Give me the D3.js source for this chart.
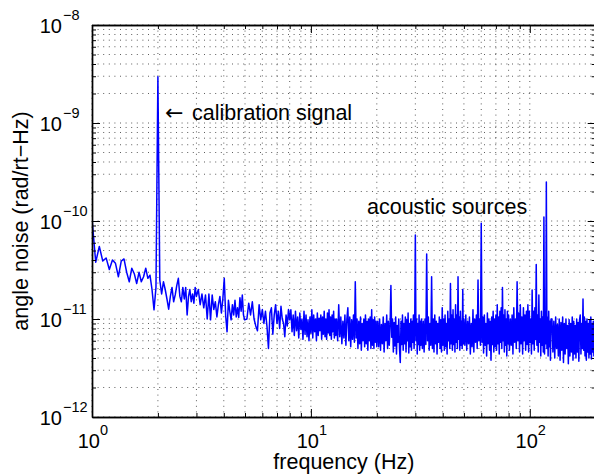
<!DOCTYPE html>
<html>
<head>
<meta charset="utf-8">
<script src="https://cdn.jsdelivr.net/npm/d3@7"></script>
<style>
  body { margin: 0; background: #fff; }
  text { font-family: "Liberation Sans", Arial, Helvetica, sans-serif; fill: #000; }
</style>
</head>
<body>
<svg id="chart" width="594" height="474"></svg>
<script>
// frequency bins (Hz)
const freqHz = [
  1.00, 1.04, 1.08, 1.12, 1.16, 1.20, 1.24, 1.28, 1.32, 1.36, 1.40, 1.44, 1.48, 1.52, 1.56, 1.60, 1.64, 1.68, 1.72, 1.76, 1.80, 1.84, 1.88, 1.92, 1.96, 2.00,
  2.04, 2.08, 2.12, 2.16, 2.20, 2.24, 2.28, 2.32, 2.36, 2.40, 2.44, 2.48, 2.52, 2.56, 2.60, 2.64, 2.68, 2.72, 2.76, 2.80, 2.84, 2.88, 2.92, 2.96, 3.00,
  3.06, 3.12, 3.18, 3.24, 3.30, 3.36, 3.42, 3.48, 3.54, 3.60, 3.66, 3.72, 3.78, 3.84, 3.90, 3.96, 4.02, 4.08, 4.14, 4.20, 4.26, 4.32, 4.38, 4.44, 4.50, 4.56, 4.62, 4.68, 4.74, 4.80, 4.86, 4.92, 4.98,
  5.1, 5.2, 5.3, 5.4, 5.5, 5.6, 5.7, 5.8, 5.9, 6.0, 6.1, 6.2, 6.3, 6.4, 6.5, 6.6, 6.7, 6.8, 6.9, 7.0, 7.1, 7.2, 7.3, 7.4, 7.5, 7.6, 7.7, 7.8, 7.9, 8.0,
  8.1, 8.2, 8.3, 8.4, 8.5, 8.6, 8.7, 8.8, 8.9, 9.0, 9.1, 9.2, 9.3, 9.4, 9.5, 9.6, 9.7, 9.8, 9.9, 10.0,
  10.1, 10.2, 10.3, 10.4, 10.5, 10.6, 10.7, 10.8, 10.9, 11.0, 11.1, 11.2, 11.3, 11.4, 11.5, 11.6, 11.7, 11.8, 11.9, 12.0,
  12.1, 12.2, 12.3, 12.4, 12.5, 12.6, 12.7, 12.8, 12.9, 13.0,
  13.1, 13.25, 13.4, 13.55, 13.7, 13.85, 14.0, 14.15, 14.3, 14.45, 14.6, 14.75, 14.9, 15.05, 15.2, 15.35, 15.5, 15.65, 15.8, 15.95,
  16.1, 16.25, 16.4, 16.55, 16.7, 16.85, 17.0, 17.15, 17.3, 17.45, 17.6, 17.75, 17.9, 18.05, 18.2, 18.35, 18.5, 18.65, 18.8, 18.95,
  19.1, 19.25, 19.4, 19.55, 19.7, 19.85, 20.0,
  20.2, 20.4, 20.6, 20.8, 21.0, 21.2, 21.4, 21.6, 21.8, 22.0, 22.2, 22.4, 22.6, 22.8, 23.0, 23.2, 23.4, 23.6, 23.8, 24.0,
  24.2, 24.4, 24.6, 24.8, 25.0, 25.2, 25.4, 25.6, 25.8, 26.0, 26.2, 26.4, 26.6, 26.8, 27.0, 27.2, 27.4, 27.6, 27.8, 28.0,
  28.2, 28.4, 28.6, 28.8, 29.0, 29.2, 29.4, 29.6, 29.8, 30.0, 30.2, 30.4, 30.6, 30.8, 31.0, 31.2, 31.4, 31.6, 31.8, 32.0,
  32.3, 32.6, 32.9, 33.2, 33.5, 33.8, 34.1, 34.4, 34.7, 35.0, 35.3, 35.6, 35.9, 36.2, 36.5, 36.8, 37.1, 37.4, 37.7, 38.0,
  38.3, 38.6, 38.9, 39.2, 39.5, 39.8, 40.1, 40.4, 40.7, 41.0, 41.3, 41.6, 41.9, 42.2, 42.5, 42.8, 43.1, 43.4, 43.7, 44.0,
  44.3, 44.6, 44.9, 45.2, 45.5, 45.8, 46.1, 46.4, 46.7, 47.0, 47.3, 47.6, 47.9, 48.2, 48.5, 48.8, 49.1, 49.4, 49.7, 50.0,
  50.5, 51, 51.5, 52, 52.5, 53, 53.5, 54, 54.5, 55, 55.5, 56, 56.5, 57, 57.5, 58, 58.5, 59, 59.5, 60,
  60.5, 61, 61.5, 62, 62.5, 63, 63.5, 64, 64.5, 65, 65.5, 66, 66.5, 67, 67.5, 68, 68.5, 69, 69.5, 70,
  70.5, 71, 71.5, 72, 72.5, 73, 73.5, 74, 74.5, 75, 75.5, 76, 76.5, 77, 77.5, 78, 78.5, 79, 79.5, 80,
  80.75, 81.5, 82.25, 83, 83.75, 84.5, 85.25, 86, 86.75, 87.5, 88.25, 89, 89.75, 90.5, 91.25, 92, 92.75, 93.5, 94.25, 95,
  95.75, 96.5, 97.25, 98, 98.75, 99.5, 100.25, 101, 101.75, 102.5, 103.25, 104, 104.75, 105.5, 106.25, 107, 107.75, 108.5, 109.25, 110,
  110.75, 111.5, 112.25, 113, 113.75, 114.5, 115.25, 116, 116.75, 117.5, 118.25, 119, 119.75, 120.5, 121.25, 122, 122.75, 123.5, 124.25, 125,
  126.25, 127.5, 128.75, 130, 131.25, 132.5, 133.75, 135, 136.25, 137.5, 138.75, 140, 141.25, 142.5, 143.75, 145, 146.25, 147.5, 148.75, 150,
  151.25, 152.5, 153.75, 155, 156.25, 157.5, 158.75, 160, 161.25, 162.5, 163.75, 165, 166.25, 167.5, 168.75, 170, 171.25, 172.5, 173.75, 175,
  176.25, 177.5, 178.75, 180, 181.25, 182.5, 183.75, 185, 186.25, 187.5, 188.75, 190, 191.25, 192.5, 193.75, 195, 196.25, 197.5, 198.75, 200
]

// angle noise, in units of 1e-12 rad/rt-Hz
const noise = [
  105, 38, 55, 39, 42, 32, 40, 37, 27, 39, 41, 30, 24, 33, 29, 23, 30, 24, 27, 33, 26, 28, 20, 12.4, 21, 2970,
  25, 18, 24, 20, 16, 12.6, 17, 21, 15, 17.6, 22, 26, 17, 15, 21, 16, 21, 11, 17, 20, 15, 18, 14.5, 21, 17,
  20, 14, 18, 13, 17.6, 10, 18, 9.8, 17.6, 12.5, 15, 10.5, 14, 17, 11.5, 16, 26, 10.8, 7.4, 15.5, 12, 9.8, 14, 11, 15.5, 10.5, 13, 10.4, 16.5, 12, 17.6, 11, 9.8,
  10, 14.5, 11, 15, 10, 8.5, 7.6, 14, 9.8, 12.5, 9, 12, 8.4, 5, 11.5, 13, 7, 11, 14, 9, 12, 8, 13.5, 10, 9, 6.6, 11, 8.5, 12.5, 9.8,
  12.4, 7.4, 11, 6.8, 12, 7.6, 10.5, 6.4, 11.5, 7.8, 10, 6.2, 12, 7, 11, 6.6, 9.8, 6, 10.5, 7.2,
  12.4, 6.4, 11, 7.4, 10, 6, 11.5, 6.8, 10.2, 7.6, 11, 6.2, 10.5, 7, 12, 6.6, 10, 6.2, 11.5, 7.2,
  12.4, 6.8, 10.5, 6.2, 11, 7.4, 12, 6.4, 10, 6.8,
  10, 6, 14, 6.6, 10.5, 5.6, 9.5, 6.4, 11, 5.4, 10, 13, 6, 10.5, 5.2, 9.8, 6.2, 11, 5.8, 24,
  6.4, 10, 5, 9.5, 5.6, 10.5, 4.8, 9, 6, 10, 5.2, 11, 5.6, 9.5, 4.8, 10, 6, 10.5, 5, 12.4,
  5.4, 9.8, 5, 10.5, 5.8, 9.5, 5.2,
  9.5, 5.2, 10, 4.8, 8.8, 5.6, 10.5, 4.6, 9, 6, 11, 5, 9.5, 5.4, 8.6, 22, 6.5, 10, 4.6, 9.2,
  5.3, 10.5, 4.4, 8.6, 5.8, 10, 5, 3.6, 9.5, 5.5, 11, 4.8, 9, 5.6, 10.5, 4.6, 9.8, 6, 11.5, 4.5,
  9, 5.2, 10, 4.8, 9.5, 5.8, 11, 5, 8.5, 72, 6, 10, 4.4, 9, 5.5, 11, 4.8, 9.5, 5.4, 10,
  5, 9.5, 4.6, 10, 5.5, 46, 6, 10.5, 4.8, 9, 5.4, 27, 5, 10, 4.6, 11, 5.6, 9.5, 4.4, 9,
  5.8, 10.5, 5, 9.8, 4.6, 13, 5.4, 10, 4.8, 11, 5.2, 9, 4.4, 12, 6, 10, 5, 23, 5.6, 11,
  4.8, 12.4, 5.5, 10, 4.6, 14, 5.8, 11, 5, 27, 6.2, 10.5, 4.8, 12, 5.4, 9.5, 5, 20, 5.6, 10,
  5.4, 11, 4.8, 9.5, 5.6, 10.5, 4.4, 9, 5.2, 12.4, 4.6, 10, 5.8, 11, 5, 25, 6, 10, 5.4, 95,
  5.8, 10.5, 4.5, 11, 5.4, 9, 4.2, 11.5, 5.6, 10, 4.8, 9.5, 3.8, 10.5, 5.5, 12, 4.6, 10, 5.2, 11,
  4.8, 14, 5.6, 10.5, 4.4, 12, 5.8, 13, 5, 21, 6, 11, 4.6, 12.4, 5.4, 10, 4.2, 12, 5.6, 11,
  4.8, 10, 5.4, 11, 4.4, 13, 5.8, 10, 5, 24, 6, 11.5, 4.6, 14, 5.6, 10.5, 4.4, 13, 6, 11,
  4.8, 12, 5.5, 14, 4.6, 12, 5.8, 10, 4.4, 19.8, 5.6, 12, 4.8, 13, 6.2, 36, 5.4, 11, 4.6, 17.6,
  5.8, 10, 4.2, 12, 5.4, 10.5, 4.6, 110, 4.4, 9, 5.6, 250, 5, 10.5, 4.2, 12, 5.2, 9.5, 3.8, 10,
  10, 4.6, 9.5, 4, 10.5, 5, 8.8, 4.2, 10, 3.8, 9.2, 4.8, 10.5, 3.6, 9, 4.4, 10, 5, 8.6, 3.5,
  9.8, 4.2, 9, 4.6, 10.5, 3.8, 9.5, 4.4, 8.6, 4, 10, 4.6, 9.2, 3.7, 9.8, 11, 4.4, 9, 5, 16,
  4.8, 10.5, 4.2, 9.5, 3.8, 10, 4.6, 9, 4, 9.8, 4.4, 10.5, 3.9, 9, 4.6, 9.5, 4.2, 8.8, 4.8, 9.5
]

const xMajor = [1, 10, 100]
const xMinor = [2, 3, 4, 5, 6, 7, 8, 9, 20, 30, 40, 50, 60, 70, 80, 90, 200]
const xExpLabels = ['0', '1', '2']
const yMajor = [1e-12, 1e-11, 1e-10, 1e-9, 1e-8]
const yExpLabels = ['\u221212', '\u221211', '\u221210', '\u22129', '\u22128']
const yMinorSteps = [2, 3, 4, 5, 6, 7, 8, 9]
const yMinor = d3.merge(yMajor.slice(0, 4).map(d => yMinorSteps.map(k => k * d)))

const svg = d3.select('#chart')
const plotLeft = 92, plotRight = 595.7, plotTop = 25, plotBottom = 417

const x = d3.scaleLog().domain([1, 200]).range([plotLeft, plotRight])
const y = d3.scaleLog().domain([1e-12, 1e-8]).range([plotBottom, plotTop])

// dotted grid
const grid = svg.append('g')
  .attr('stroke', '#333')
  .attr('stroke-width', 0.8)
  .attr('stroke-dasharray', '1,4.6')
grid.selectAll('.gx').data(xMajor.concat(xMinor)).enter().append('line')
  .attr('x1', d => x(d)).attr('x2', d => x(d))
  .attr('y1', plotTop).attr('y2', plotBottom)
grid.selectAll('.gy').data(yMajor.concat(yMinor)).enter().append('line')
  .attr('y1', d => y(d)).attr('y2', d => y(d))
  .attr('x1', plotLeft).attr('x2', plotRight)

// spectrum
svg.append('clipPath').attr('id', 'plotArea').append('rect')
  .attr('x', plotLeft).attr('y', plotTop - 2)
  .attr('width', plotRight - plotLeft).attr('height', plotBottom - plotTop + 2)

const line = d3.line()
  .x(d => x(d[0]))
  .y(d => y(d[1] * 1e-12))

svg.append('path')
  .datum(d3.zip(freqHz, noise))
  .attr('clip-path', 'url(#plotArea)')
  .attr('fill', 'none')
  .attr('stroke', '#0000ff')
  .attr('stroke-width', 1.5)
  .attr('stroke-linejoin', 'round')
  .attr('d', line)

// axes with inward ticks on all four sides
function drawAxis (axisFn, scale, pos, transform) {
  const g = svg.append('g').attr('transform', transform)
  g.call(axisFn(scale).tickValues(pos.minor).tickSize(-4).tickSizeOuter(0).tickFormat(''))
  g.append('g').call(axisFn(scale).tickValues(pos.major).tickSize(-8).tickSizeOuter(0).tickFormat(''))
  g.selectAll('.domain').attr('stroke-width', 1.4)
  g.selectAll('.tick line').attr('stroke-width', 1)
}
drawAxis(d3.axisBottom, x, { major: xMajor, minor: xMinor }, `translate(0,${plotBottom})`)
drawAxis(d3.axisTop, x, { major: xMajor, minor: xMinor }, `translate(0,${plotTop})`)
drawAxis(d3.axisLeft, y, { major: yMajor, minor: yMinor }, `translate(${plotLeft},0)`)
drawAxis(d3.axisRight, y, { major: yMajor, minor: yMinor }, `translate(${plotRight},0)`)

// tick labels 10^n
svg.selectAll('.xlab').data(xMajor).enter().append('text')
  .attr('x', d => x(d) + 8).attr('y', 448)
  .attr('text-anchor', 'end').attr('font-size', 20)
  .text('10')
svg.selectAll('.xexp').data(xMajor).enter().append('text')
  .attr('x', d => x(d) + 8).attr('y', 435)
  .attr('font-size', 14.5)
  .text((d, i) => xExpLabels[i])

svg.selectAll('.ylab').data(yMajor).enter().append('text')
  .attr('x', 62).attr('y', d => y(d) + 8)
  .attr('text-anchor', 'end').attr('font-size', 20)
  .text('10')
svg.selectAll('.yexp').data(yMajor).enter().append('text')
  .attr('x', 63).attr('y', d => y(d) - 5)
  .attr('font-size', 14.5)
  .text((d, i) => yExpLabels[i])

// axis titles
svg.append('text')
  .attr('x', (plotLeft + plotRight) / 2).attr('y', 469)
  .attr('text-anchor', 'middle').attr('font-size', 21.5)
  .text('frequency (Hz)')
svg.append('text')
  .attr('transform', `translate(28,${(plotTop + plotBottom) / 2}) rotate(-90)`)
  .attr('text-anchor', 'middle').attr('font-size', 21.5)
  .text('angle noise (rad/rt\u2212Hz)')

// annotations
svg.append('text')
  .attr('x', 165).attr('y', 120)
  .style('font-family', '"DejaVu Sans", sans-serif')
  .attr('font-size', 22)
  .text('\u2190')
svg.append('text')
  .attr('x', 192).attr('y', 120).attr('font-size', 21.5)
  .text('calibration signal')
svg.append('text')
  .attr('x', 367).attr('y', 214).attr('font-size', 21.5)
  .text('acoustic sources')
</script>
</body>
</html>
